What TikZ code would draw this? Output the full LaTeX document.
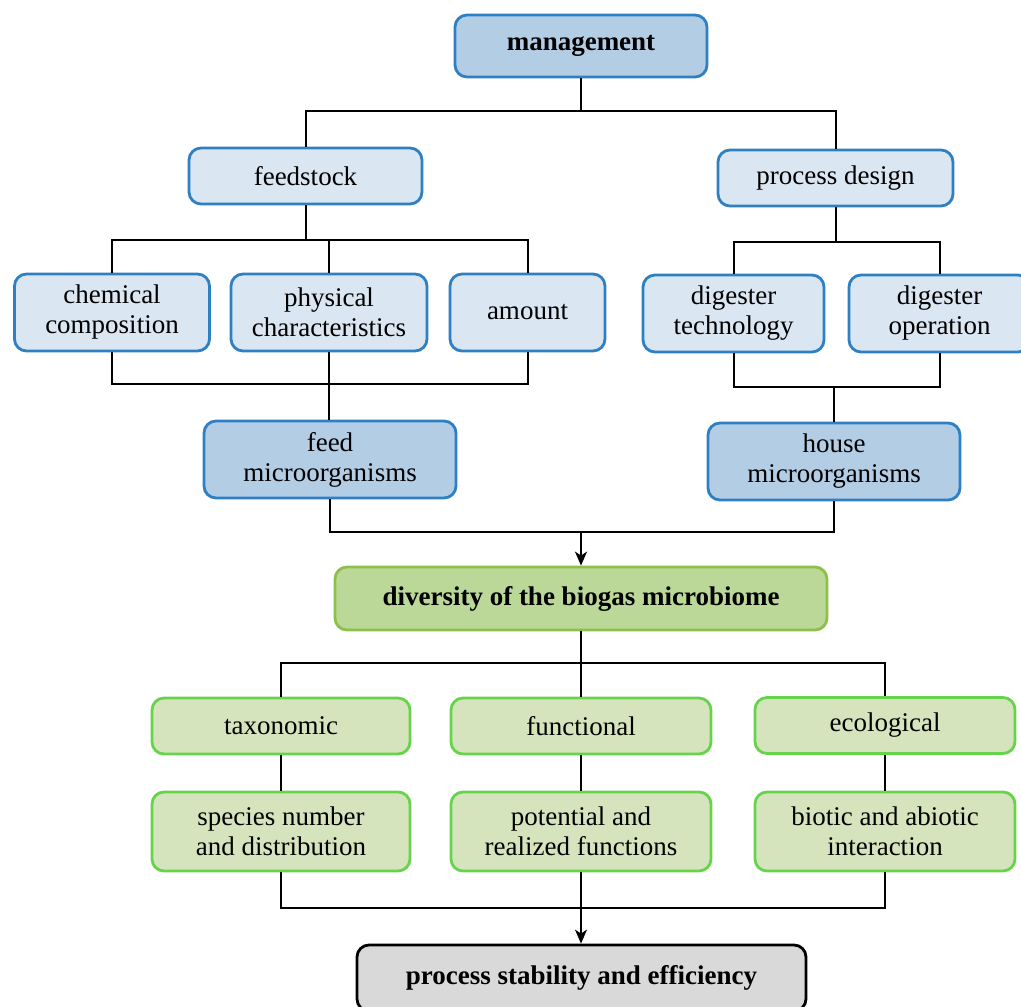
\documentclass[tikz,border=0pt]{standalone}
\usepackage{fontspec}
\setmainfont{Liberation Serif}
\usetikzlibrary{arrows.meta}
\definecolor{bdark}{HTML}{B3CDE5}
\definecolor{blight}{HTML}{DAE6F1}
\definecolor{bborder}{HTML}{2F80C3}
\definecolor{gdark}{HTML}{BCD899}
\definecolor{gdarkb}{HTML}{8CC04A}
\definecolor{glight}{HTML}{D6E4BD}
\definecolor{gborder}{HTML}{66D44B}
\definecolor{graybox}{HTML}{D9D9D9}
\tikzset{
  box/.style={rounded corners=12pt, line width=2.8pt, align=center, inner sep=0pt,
    font=\fontsize{27}{30}\selectfont},
  bluedark/.style={box, fill=bdark, draw=bborder},
  bluelight/.style={box, fill=blight, draw=bborder},
  greendark/.style={box, fill=gdark, draw=gdarkb},
  greenlight/.style={box, fill=glight, draw=gborder},
  graynode/.style={box, fill=graybox, draw=black},
  conn/.style={line width=2pt, draw=black},
  arr/.style={conn, -{Stealth[length=14pt,width=12pt,inset=4pt]}},
}
\begin{document}
\begin{tikzpicture}[x=1pt,y=-1pt]
\useasboundingbox (0,0) rectangle (1021,1007);
\clip (0,0) rectangle (1021,1007);
% nodes
\node[bluedark, minimum width=252pt, minimum height=62pt] (mgmt) at (581,46) {\textbf{management}};
\node[bluelight, minimum width=233pt, minimum height=56pt] (feed) at (305.5,176) {feedstock};
\node[bluelight, minimum width=235pt, minimum height=56pt] (proc) at (835.5,178) {process design};
\node[bluelight, minimum width=195pt, minimum height=77pt] (chem) at (112,312.5) {chemical\\composition};
\node[bluelight, minimum width=196pt, minimum height=77pt] (phys) at (329,312.5) {physical\\characteristics};
\node[bluelight, minimum width=155pt, minimum height=77pt] (amount) at (527.5,312.5) {amount};
\node[bluelight, minimum width=181pt, minimum height=77pt] (dtech) at (733.5,313.5) {digester\\technology};
\node[bluelight, minimum width=181pt, minimum height=77pt] (dop) at (939.5,313.5) {digester\\operation};
\node[bluedark, minimum width=252pt, minimum height=77pt] (feedmo) at (330,459.5) {feed\\microorganisms};
\node[bluedark, minimum width=252pt, minimum height=77pt] (housemo) at (834,461.5) {house\\microorganisms};
\node[greendark, minimum width=492pt, minimum height=63pt] (div) at (581,598.5) {\textbf{diversity of the biogas microbiome}};
\node[greenlight, minimum width=258pt, minimum height=56pt] (tax) at (281,726) {taxonomic};
\node[greenlight, minimum width=260pt, minimum height=56pt] (func) at (581,726) {functional};
\node[greenlight, minimum width=260pt, minimum height=56pt] (eco) at (885,725.5) {ecological};
\node[greenlight, minimum width=258pt, minimum height=79pt] (spec) at (281,831.5) {species number\\and distribution};
\node[greenlight, minimum width=260pt, minimum height=79pt] (pot) at (581,831.5) {potential and\\realized functions};
\node[greenlight, minimum width=260pt, minimum height=79pt] (bio) at (885,831.5) {biotic and abiotic\\interaction};
\node[graynode, minimum width=449pt, minimum height=66pt] (pse) at (581.5,978) {\textbf{process stability and efficiency}};
% connectors
\coordinate (b1) at (581,111);
\draw[conn] (mgmt.south) -- (b1);
\draw[conn] (feed.north) |- (b1) -| (proc.north);
\coordinate (b2) at (305.5,240);
\draw[conn] (feed.south) -- (b2);
\draw[conn] (chem.north) |- (b2) -| (amount.north);
\draw[conn] (phys.north) -- (phys.north |- b2);
\coordinate (b3) at (329,384);
\draw[conn] (chem.south) |- (b3) -| (amount.south);
\draw[conn] (phys.south) -- (phys.south |- feedmo.north);
\coordinate (b4) at (835.5,242);
\draw[conn] (proc.south) -- (b4);
\draw[conn] (dtech.north) |- (b4) -| (dop.north);
\coordinate (b5) at (834,387);
\draw[conn] (dtech.south) |- (b5) -| (dop.south);
\draw[conn] (b5) -- (housemo.north);
\coordinate (b6) at (581,532);
\draw[conn] (feedmo.south) |- (b6) -| (housemo.south);
\draw[arr] (b6) -- (div.north);
\coordinate (b7) at (581,663);
\draw[conn] (div.south) -- (b7);
\draw[conn] (tax.north) |- (b7) -| (eco.north);
\draw[conn] (func.north) -- (b7);
\draw[conn] (tax.south) -- (spec.north);
\draw[conn] (func.south) -- (pot.north);
\draw[conn] (eco.south) -- (bio.north);
\coordinate (b8) at (581,908);
\draw[conn] (spec.south) |- (b8) -| (bio.south);
\draw[arr] (pot.south) -- (pot.south |- pse.north);
\end{tikzpicture}
\end{document}
